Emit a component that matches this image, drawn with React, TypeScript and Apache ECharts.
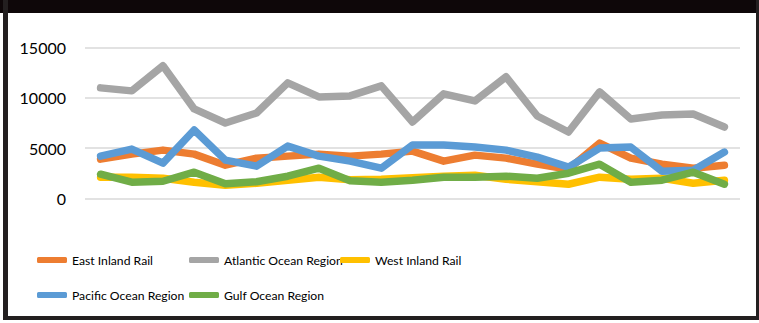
import React, { useEffect, useRef } from "react";
import * as echarts from "echarts";

const categories = Array.from({ length: 21 }, (_, i) => String(i + 1));
const eastInlandRail = [3900, 4400, 4800, 4400, 3300, 4000, 4200, 4400, 4200, 4400, 4700, 3700, 4300, 4000, 3400, 2900, 5500, 4000, 3400, 3000, 3300];
const atlanticOceanRegion = [11000, 10700, 13200, 8900, 7500, 8500, 11500, 10100, 10200, 11200, 7600, 10400, 9700, 12100, 8200, 6600, 10600, 7900, 8300, 8400, 7100];
const westInlandRail = [2100, 2100, 2000, 1600, 1300, 1500, 1800, 2100, 1850, 1900, 2050, 2200, 2300, 1900, 1650, 1400, 2100, 1900, 2000, 1500, 1800];
const pacificOceanRegion = [4200, 4900, 3500, 6800, 3800, 3200, 5200, 4200, 3700, 3000, 5300, 5300, 5100, 4800, 4100, 3100, 5000, 5100, 2700, 2800, 4600];
const gulfOceanRegion = [2400, 1600, 1700, 2600, 1450, 1650, 2200, 3000, 1750, 1600, 1800, 2100, 2100, 2200, 2000, 2500, 3400, 1600, 1800, 2600, 1400];
const yTicks = [0, 5000, 10000, 15000];

const seriesNames = ["East Inland Rail", "Atlantic Ocean Region", "West Inland Rail", "Pacific Ocean Region", "Gulf Ocean Region"];
const seriesData = [eastInlandRail, atlanticOceanRegion, westInlandRail, pacificOceanRegion, gulfOceanRegion];
const colors = ["#ED7D31", "#A5A5A5", "#FFC000", "#5B9BD5", "#70AD47"];
const legendPos = [
  { left: 37, top: 254 },
  { left: 189, top: 254 },
  { left: 340, top: 254 },
  { left: 37, top: 289 },
  { left: 189, top: 289 },
];

export default function App() {
  const ref = useRef<HTMLDivElement>(null);
  useEffect(() => {
    if (!ref.current) return;
    const chart = echarts.init(ref.current, undefined, { renderer: "svg" });
    const font = "Lato, 'Liberation Sans', sans-serif";
    chart.setOption({
      animation: false,
      backgroundColor: "#ffffff",
      grid: { left: 85, right: 19, top: 47.7, bottom: 124.7 },
      xAxis: {
        type: "category",
        data: categories,
        boundaryGap: true,
        axisLine: { show: false },
        axisTick: { show: false },
        axisLabel: { show: false },
        splitLine: { show: false },
      },
      yAxis: {
        type: "value",
        min: yTicks[0],
        max: yTicks[yTicks.length - 1],
        interval: 5000,
        axisLine: { show: false },
        axisTick: { show: false },
        axisLabel: {
          margin: 19,
          color: "#000000",
          fontSize: 16,
          fontFamily: font,
          formatter: (v: number) => String(v),
        },
        splitLine: { lineStyle: { color: "#D9D9D9", width: 1.5 } },
      },
      legend: seriesNames.map((name, i) => ({
        data: [name],
        left: legendPos[i].left,
        top: legendPos[i].top,
        icon: "roundRect",
        itemWidth: 30,
        itemHeight: 6,
        padding: 0,
        textStyle: { color: "#000000", fontSize: 12.2, fontFamily: font },
      })),
      series: seriesNames.map((name, i) => ({
        name,
        type: "line",
        data: seriesData[i],
        showSymbol: false,
        symbol: "none",
        color: colors[i],
        lineStyle: { width: 7.5, color: colors[i], cap: "round", join: "round" },
      })),
      graphic: [
        { type: "rect", shape: { x: 0, y: 0, width: 759, height: 13 }, style: { fill: "#0E0709" } },
        { type: "rect", shape: { x: 3, y: 0, width: 5, height: 320 }, style: { fill: "#231F20" } },
        { type: "rect", shape: { x: 756, y: 0, width: 3, height: 320 }, style: { fill: "#231F20" } },
        { type: "rect", shape: { x: 3, y: 316, width: 756, height: 4 }, style: { fill: "#231F20" } },
      ],
    });
    return () => chart.dispose();
  }, []);
  return (
    <div
      ref={ref}
      style={{ position: "fixed", left: 0, top: 0, width: 759, height: 323, background: "#fff" }}
    />
  );
}
